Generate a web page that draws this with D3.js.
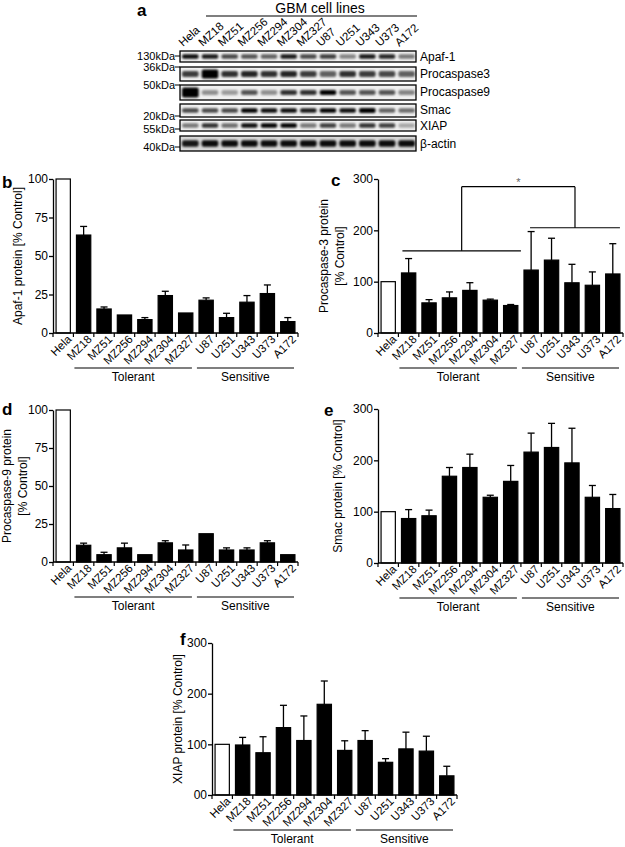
<!DOCTYPE html>
<html><head><meta charset="utf-8">
<script src="https://cdn.jsdelivr.net/npm/d3@7"></script>
<style>
body{margin:0;background:#fff;}
svg{display:block;font-family:"Liberation Sans",Arial,sans-serif;}
</style></head><body>
<svg id="fig" width="625" height="847"></svg>
<script>
// ---------- DATA ----------
const cellLines = ["Hela","MZ18","MZ51","MZ256","MZ294","MZ304","MZ327","U87","U251","U343","U373","A172"];
const tolerantLines = ["MZ18","MZ51","MZ256","MZ294","MZ304","MZ327"];
const sensitiveLines = ["U87","U251","U343","U373","A172"];
const groupNames = ["Tolerant","Sensitive"];

const blotProteins = ["Apaf-1","Procaspase3","Procaspase9","Smac","XIAP","β-actin"];
const blotMarkers = ["130kDa","36kDa","50kDa","20kDa","55kDa","40kDa"];
// band intensities per lane (relative, read from blot)
const bandApaf  = [0.95,0.9,0.7,0.65,0.6,0.9,0.7,0.75,0.45,0.9,0.85,0.5];
const bandCasp3 = [0.75,1.5,0.8,0.85,0.8,0.85,0.75,0.6,0.8,0.75,0.7,0.6];
const bandCasp9 = [2.0,0.4,0.35,0.65,0.4,0.8,0.8,1.0,0.65,0.65,0.65,0.45];
const bandSmac  = [0.7,0.7,0.7,1.0,0.95,0.95,0.9,1.0,0.95,1.15,0.6,0.55];
const bandXiap  = [0.5,0.8,0.55,0.95,1.0,1.05,0.5,0.75,0.5,0.8,0.75,0.3];
const bandActin = [0.9,0.95,0.95,0.95,0.95,0.95,0.95,0.95,0.95,0.95,0.95,0.95];

const yTicks100 = [0,25,50,75,100];
const yTicks300 = [0,100,200,300];

const apafMean = [100,63.6,15.6,11.7,8.7,24.3,13,21.3,10,20,25.6,7.4];
const apafSem  = [0,5.6,1.3,0,1.3,2.8,0,1.5,2.8,4.3,5.6,2.6];
const casp3Mean = [100,117,58.7,68.5,83,64,53.5,122.6,142,97.8,93,115];
const casp3Sem  = [0,28,6.3,11.5,15,2,2,75,42.6,36,26,59];
const casp9Mean = [100,11,4.8,9.3,4.8,12.6,7.9,18.6,7.9,7.9,12.6,4.8];
const casp9Sem  = [0,1.4,1.6,3.1,0,1.4,3.3,0,1.4,1.4,1.4,0];
const smacMean = [100,86.6,92,169,186,128,159,216,225,195,128,106];
const smacSem  = [0,17.4,11,17,26,4,31,37,47,67.5,23,27.5];
const xiapMean = [100,98.7,83.4,133,107.5,179,88,107.5,64.5,91,86.6,37.8];
const xiapSem  = [0,15,31.6,44,48.5,46,19,19.5,7.2,33,29.4,18.9];
// significance bracket in panel c (data units)
const sigLevels = [160,205,285];
const sigLabel = "*";

// ---------- DRAW ----------
const svg = d3.select("#fig");

function letter(t,x,y){
  svg.append("text").attr("x",x).attr("y",y).attr("font-weight","bold")
    .attr("font-size",17).text(t);
}

// ----- Panel a: blot -----
(function(){
  const bx0 = 180, bx1 = 416;
  const rowsY = [[51,62],[67,81],[85,100],[104,117],[120,131],[136,151]];
  const markerY = [56,67,85,116,129,147];
  const labelY = [57,74,92,110,126,144];
  const baseH = [4.5,6,5,4.5,4.5,6.5];
  const bands = [bandApaf,bandCasp3,bandCasp9,bandSmac,bandXiap,bandActin];
  const lane = d3.scaleBand().domain(cellLines).range([bx0,bx1]);
  const defs = svg.append("defs");
  defs.append("filter").attr("id","blur").attr("x","-20%").attr("y","-80%")
    .attr("width","140%").attr("height","260%")
    .append("feGaussianBlur").attr("stdDeviation",1.0);

  letter("a",137,16);
  svg.append("text").attr("x",320).attr("y",13).attr("text-anchor","middle")
    .attr("font-size",14).text("GBM cell lines");
  svg.append("line").attr("x1",206).attr("x2",417).attr("y1",16).attr("y2",16)
    .attr("stroke","#000").attr("stroke-width",1.2);

  cellLines.forEach(c=>{
    svg.append("text").attr("font-size",11.5)
      .attr("transform",`translate(${lane(c)+3},47) rotate(-42)`).text(c);
  });

  blotProteins.forEach((p,i)=>{
    const [y0,y1] = rowsY[i];
    const g = svg.append("g");
    g.append("rect").attr("x",bx0).attr("y",y0).attr("width",bx1-bx0).attr("height",y1-y0)
      .attr("fill",i===5?"#d8d8d8":"#f0f0f0");
    const bg = g.append("g").attr("filter","url(#blur)");
    bands[i].forEach((v,j)=>{
      const h = baseH[i]*Math.max(1,v);
      const cy = (y0+y1)/2;
      bg.append("rect").attr("x",lane(cellLines[j])+2).attr("width",lane.bandwidth()-3)
        .attr("y",Math.max(y0,cy-h/2)).attr("height",Math.min(h,y1-y0))
        .attr("rx",2).attr("fill","#000").attr("opacity",Math.min(1,v));
    });
    g.append("rect").attr("x",bx0).attr("y",y0).attr("width",bx1-bx0).attr("height",y1-y0)
      .attr("fill","none").attr("stroke","#000").attr("stroke-width",1.3);
    svg.append("text").attr("x",175).attr("y",markerY[i]+4).attr("text-anchor","end")
      .attr("font-size",11).text(blotMarkers[i]);
    svg.append("line").attr("x1",175).attr("x2",bx0).attr("y1",markerY[i]).attr("y2",markerY[i])
      .attr("stroke","#000").attr("stroke-width",1);
    svg.append("text").attr("x",420).attr("y",labelY[i]+4).attr("font-size",12).text(p);
  });
})();

// ----- Bar panels -----
function barPanel(cfg, means, sems){
  const g = svg.append("g");
  const x = d3.scaleBand().domain(cellLines).range([cfg.x0,cfg.x1])
    .paddingInner(0.3).paddingOuter(0.15);
  const y = d3.scaleLinear().domain([0,cfg.max]).range([cfg.yBot,cfg.yTop]);
  const half = x.step()*0.3/2;
  const data = cellLines.map((c,i)=>({c,m:means[i],s:sems[i],i}));

  g.selectAll("rect.bar").data(data).enter().append("rect")
    .attr("x",d=>x(d.c)).attr("width",x.bandwidth())
    .attr("y",d=>y(d.m)).attr("height",d=>y(0)-y(d.m))
    .attr("fill",d=>d.i===0?"#fff":"#000").attr("stroke","#000").attr("stroke-width",1.2);
  const eb = data.filter(d=>d.s>0);
  g.selectAll("line.eb").data(eb).enter().append("line")
    .attr("x1",d=>x(d.c)+x.bandwidth()/2).attr("x2",d=>x(d.c)+x.bandwidth()/2)
    .attr("y1",d=>y(d.m)).attr("y2",d=>y(d.m+d.s)).attr("stroke","#000").attr("stroke-width",1.3);
  g.selectAll("line.cap").data(eb).enter().append("line")
    .attr("x1",d=>x(d.c)+x.bandwidth()/2-3.5).attr("x2",d=>x(d.c)+x.bandwidth()/2+3.5)
    .attr("y1",d=>y(d.m+d.s)).attr("y2",d=>y(d.m+d.s)).attr("stroke","#000").attr("stroke-width",1.3);

  const ya = g.append("g").attr("transform",`translate(${cfg.x0},0)`)
    .call(d3.axisLeft(y).tickValues(cfg.ticks).tickSize(4).tickSizeOuter(0).tickPadding(1)
      .tickFormat(cfg.zeroLabel?(v=>v===0?cfg.zeroLabel:v):d3.format("d")));
  ya.select(".domain").attr("stroke-width",1.3);
  ya.selectAll(".tick line").attr("stroke-width",1.3);
  ya.selectAll("text").attr("font-size",12).attr("font-family","Liberation Sans, Arial");

  g.append("line").attr("x1",cfg.x0).attr("x2",cfg.x1).attr("y1",cfg.yBot).attr("y2",cfg.yBot)
    .attr("stroke","#000").attr("stroke-width",1.3);
  const bounds = [x(cellLines[0])-half].concat(cellLines.map(c=>x(c)+x.bandwidth()+half));
  g.selectAll("line.xt").data(bounds).enter().append("line")
    .attr("x1",d=>d).attr("x2",d=>d).attr("y1",cfg.yBot).attr("y2",cfg.yBot+4)
    .attr("stroke","#000").attr("stroke-width",1.2);
  g.selectAll("text.xl").data(cellLines).enter().append("text")
    .attr("text-anchor","end").attr("font-size",11.5)
    .attr("transform",c=>`translate(${x(c)+x.bandwidth()/2+9},${cfg.yBot+7}) rotate(-45)`)
    .text(c=>c);

  [[tolerantLines,groupNames[0]],[sensitiveLines,groupNames[1]]].forEach(([ls,name])=>{
    const a = x(ls[0])-half+1, b = x(ls[ls.length-1])+x.bandwidth()+half-4;
    g.append("line").attr("x1",a).attr("x2",b).attr("y1",cfg.yBot+35).attr("y2",cfg.yBot+35)
      .attr("stroke","#000").attr("stroke-width",1.2);
    g.append("text").attr("x",(a+b)/2).attr("y",cfg.yBot+48).attr("text-anchor","middle")
      .attr("font-size",12).text(name);
  });

  const cy = (cfg.yTop+cfg.yBot)/2;
  cfg.ylab.forEach((t,k)=>{
    g.append("text").attr("text-anchor","middle").attr("font-size",12)
      .attr("transform",`translate(${cfg.ylabX[k]},${cy}) rotate(-90)`).text(t);
  });
  letter(cfg.letter, cfg.lx, cfg.ly);
  return {x,y,half};
}

barPanel({x0:53,x1:298,yTop:179,yBot:333,max:100,ticks:yTicks100,
  ylab:["Apaf-1  protein [% Control]"],ylabX:[22],letter:"b",lx:2,ly:188}, apafMean, apafSem);

const pc = barPanel({x0:378,x1:623,yTop:179,yBot:333,max:300,ticks:yTicks300,
  ylab:["Procaspase-3 protein","[% Control]"],ylabX:[328,344],letter:"c",lx:331,ly:186}, casp3Mean, casp3Sem);

barPanel({x0:53,x1:298,yTop:410,yBot:562,max:100,ticks:yTicks100,
  ylab:["Procaspase-9 protein","[% Control]"],ylabX:[11,27],letter:"d",lx:2,ly:415}, casp9Mean, casp9Sem);

barPanel({x0:378,x1:623,yTop:409,yBot:563,max:300,ticks:yTicks300,
  ylab:["Smac  protein [% Control]"],ylabX:[342],letter:"e",lx:324,ly:416}, smacMean, smacSem);

barPanel({x0:212,x1:457,yTop:643,yBot:795,max:300,ticks:yTicks300,zeroLabel:"00",
  ylab:["XIAP protein [% Control]"],ylabX:[182],letter:"f",lx:180,ly:645}, xiapMean, xiapSem);

// significance bracket in c
(function(){
  const {x,y,half} = pc;
  const tA = x(tolerantLines[0])-half+4, tB = x(tolerantLines[tolerantLines.length-1])+x.bandwidth()+half;
  const sA = x(sensitiveLines[0])+half+3, sB = x(sensitiveLines[sensitiveLines.length-1])+x.bandwidth();
  const ln = (x1,y1,x2,y2)=>svg.append("line").attr("x1",x1).attr("y1",y1).attr("x2",x2).attr("y2",y2)
    .attr("stroke","#000").attr("stroke-width",1.2);
  ln(tA,y(sigLevels[0]),tB,y(sigLevels[0]));
  ln(sA,y(sigLevels[1]),sB,y(sigLevels[1]));
  const m1 = (tA+tB)/2, m2 = (sA+sB)/2;
  ln(m1,y(sigLevels[0]),m1,y(sigLevels[2]));
  ln(m1,y(sigLevels[2]),m2,y(sigLevels[2]));
  ln(m2,y(sigLevels[2]),m2,y(sigLevels[1]));
  svg.append("text").attr("x",(m1+m2)/2).attr("y",y(sigLevels[2])-1).attr("text-anchor","middle")
    .attr("font-size",11).attr("fill","#666").text(sigLabel);
})();
</script>
</body></html>
